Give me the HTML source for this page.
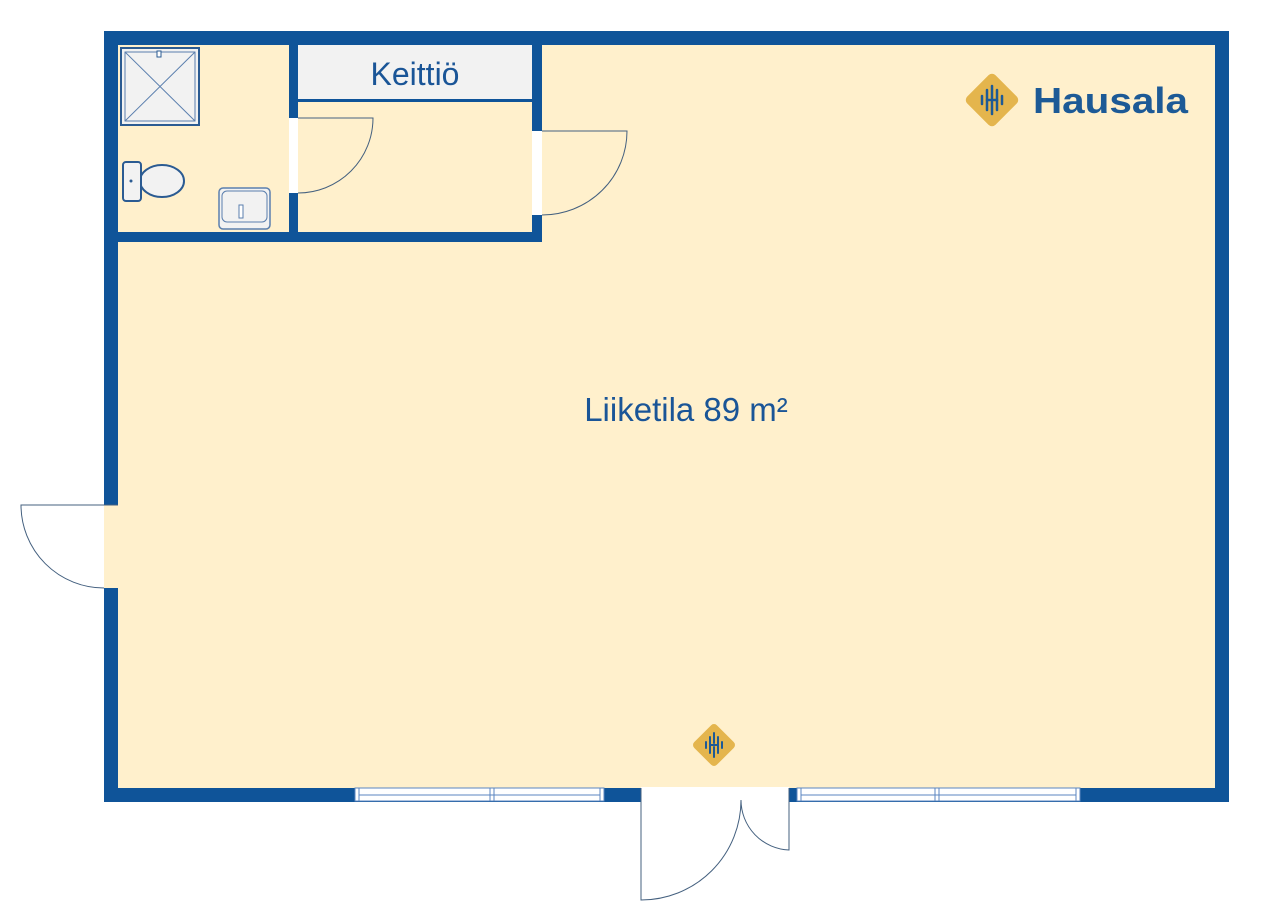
<!DOCTYPE html>
<html><head><style>body{margin:0;background:#fff}svg{display:block}</style></head><body>
<svg width="1264" height="922" viewBox="0 0 1264 922" xmlns="http://www.w3.org/2000/svg" font-family="'Liberation Sans',sans-serif">
<rect x="104" y="31" width="1125" height="771" fill="#0f5499"/>
<rect x="118" y="45" width="1097" height="743" fill="#fff0cc"/>
<rect x="118" y="232" width="424" height="10" fill="#0f5499"/>
<rect x="289" y="45" width="9" height="190" fill="#0f5499"/>
<rect x="532" y="45" width="10" height="190" fill="#0f5499"/>
<rect x="298" y="45" width="234" height="55" fill="#f2f2f2"/>
<rect x="298" y="99" width="234" height="3" fill="#0f5499"/>
<text x="415" y="85" text-anchor="middle" font-size="32" fill="#1a5597">Keittiö</text>
<rect x="289" y="118" width="9" height="75" fill="#fff"/>
<path d="M298 118 H373 A75 75 0 0 1 298 193" fill="none" stroke="#44607f" stroke-width="1"/>
<rect x="532" y="131" width="10" height="84" fill="#fff"/>
<path d="M542 131 H627 A85 84 0 0 1 542 215" fill="none" stroke="#44607f" stroke-width="1"/>
<rect x="104" y="505" width="14" height="83" fill="#fff0cc"/>
<path d="M118 505 H21 A83 83 0 0 0 104 588" fill="none" stroke="#44607f" stroke-width="1"/>
<g fill="#fff" stroke="#5b86c0" stroke-width="1">
<rect x="355" y="788" width="249" height="13"/><line x1="359" y1="795" x2="600" y2="795"/><line x1="490" y1="788" x2="490" y2="801"/><line x1="494" y1="788" x2="494" y2="801"/><line x1="359" y1="788" x2="359" y2="801"/><line x1="600" y1="788" x2="600" y2="801"/>
<rect x="797" y="788" width="283" height="13"/><line x1="801" y1="795" x2="1076" y2="795"/><line x1="935" y1="788" x2="935" y2="801"/><line x1="939" y1="788" x2="939" y2="801"/><line x1="801" y1="788" x2="801" y2="801"/><line x1="1076" y1="788" x2="1076" y2="801"/>
</g>
<rect x="641" y="787" width="148" height="16" fill="#fff"/>
<path d="M641 788 V900 A100 100 0 0 0 741 800 A50 50 0 0 0 789 850 V788" fill="none" stroke="#44607f" stroke-width="1"/>
<rect x="121" y="48" width="78" height="77" fill="#f2f2f2" stroke="#2b5b92" stroke-width="2"/>
<rect x="125" y="52" width="70" height="69" fill="none" stroke="#5b7fae" stroke-width="1"/>
<path d="M125 52 L195 121 M195 52 L125 121" stroke="#5b7fae" stroke-width="1"/>
<rect x="157" y="51" width="4" height="6" fill="#fff" stroke="#2b5b92"/>
<ellipse cx="162" cy="181" rx="22" ry="16" fill="#f2f2f2" stroke="#2b5b92" stroke-width="2"/>
<rect x="123" y="162" width="18" height="39" rx="3" fill="#f2f2f2" stroke="#2b5b92" stroke-width="2"/>
<circle cx="131" cy="181" r="1.5" fill="#2b5b92"/>
<rect x="219" y="188" width="51" height="41" rx="4" fill="#f2f2f2" stroke="#5b7fae" stroke-width="1.5"/>
<rect x="222" y="191" width="45" height="31" rx="5" fill="none" stroke="#5b7fae" stroke-width="1"/>
<rect x="239" y="205" width="4" height="13" fill="#fff" stroke="#5b7fae"/>
<text x="686" y="421" text-anchor="middle" font-size="33" fill="#1a5597">Liiketila 89 m²</text>
<g transform="translate(992,100)">
<rect x="-20" y="-20" width="40" height="40" rx="5" transform="rotate(45)" fill="#e4b54d"/>
<g stroke="#1d5a96" stroke-width="2.5" stroke-linecap="round"><line x1="-10" y1="-4" x2="-10" y2="4"/><line x1="-5" y1="-10" x2="-5" y2="10"/><line x1="0" y1="-14" x2="0" y2="-2"/><line x1="0" y1="2" x2="0" y2="14"/><line x1="5" y1="-10" x2="5" y2="10"/><line x1="-5" y1="0" x2="5" y2="0"/><line x1="10" y1="-4" x2="10" y2="4"/></g>
</g>
<text x="1033" y="113" font-size="36" font-weight="bold" fill="#1d5a96" textLength="155" lengthAdjust="spacingAndGlyphs">Hausala</text>
<g transform="translate(714,745)">
<rect x="-16" y="-16" width="32" height="32" rx="4" transform="rotate(45)" fill="#e4b54d"/>
<g stroke="#1d5a96" stroke-width="2" stroke-linecap="round"><line x1="-8" y1="-3" x2="-8" y2="3"/><line x1="-4" y1="-8" x2="-4" y2="8"/><line x1="0" y1="-12" x2="0" y2="-2"/><line x1="0" y1="2" x2="0" y2="12"/><line x1="4" y1="-8" x2="4" y2="8"/><line x1="-4" y1="0" x2="4" y2="0"/><line x1="8" y1="-3" x2="8" y2="3"/></g>
</g>
</svg>
</body></html>
